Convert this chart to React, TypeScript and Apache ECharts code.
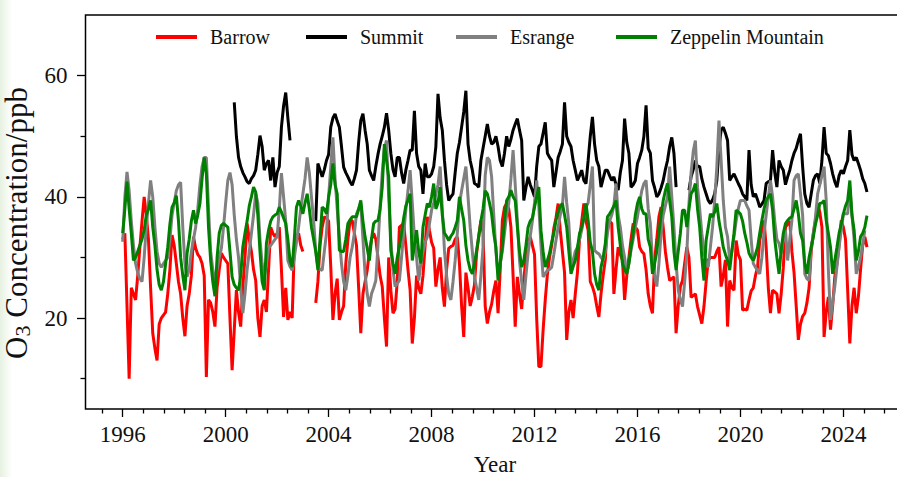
import React, { useEffect, useRef } from 'react';
import * as echarts from 'echarts';

// Monthly mean surface ozone (ppb), January 1996 – December 2024, one row per year.
const START_YEAR = 1996;

const BARROW: (number | null)[] = [
  33, 34, 22, 10, 25, 24, 23, 27, 31.7, 36, 40, 37,
  33, 25, 17.5, 15, 13, 19, 20, 20.5, 21, 24, 28, 33.7,
  32, 29, 26, 24, 20, 17, 22, 24, 27, 33.4, 31.5, 30.5,
  30, 29, 27, 10.3, 23, 22.5, 21, 18.6, 25, 28, 30.7, 30,
  29.5, 29, 20, 11.4, 18, 24.6, 21, 18.6, 25, 30, 35.6, 33,
  31, 28, 26.2, 20, 16.9, 22, 23, 21, 28, 35, 34, 33.4,
  34, 35, 28, 20.2, 25, 19.7, 21, 20, 31.7, 33, 34, 32,
  31, null, null, null, null, null, 22.5, 26, 32, 35, 36.7, 36.5,
  36, 28.4, 19.7, 24, 26.5, 19.7, 21, 22, 29, 33, 36.1, 36.1,
  34, 32, 25, 17.5, 24, 26, 27.9, 31, 33, 34, 33, 30,
  27, 25.2, 20, 15.3, 30, 24.6, 20.8, 21.5, 26, 35, 35.3, 35.6,
  32, 28, 24.6, 15.8, 20, 27, 25, 24, 27, 32, 36.7, 34.5,
  32.5, 31.5, 25.2, 28, 30, 25, 21.9, 28, 31.5, 31.8, 32, 33,
  33.4, 29, 22, 16.9, 27.5, 25, 22, 23.5, 25.5, 30.7, 33.5, 36.1,
  34, 22, 19.1, 21, 22.3, 24.5, 26.2, 20.8, 28, 36.1, 38.3, 38.9,
  38, 35, 27, 18.6, 26.8, 24, 21.5, 26, 30.3, 32, 33.4, 32,
  30.5, 20, 12, 12, 18, 23, 27.2, 30, 32, 34.8, 36.5, 38.9,
  34.5, 31, 27.5, 16.4, 21, 23, 20, 24, 27.5, 33, 36, 38.9,
  36, 34.5, 26, 25.2, 24, 22, 20.2, 24, 27, 29.6, 36.1, 36,
  35.6, 24, 28, 31.7, 30.5, 29.6, 23, 27, 30, 33, 35.6, 35,
  34.5, 31.7, 31, 30.6, 28, 24, 22, 20.8, 29.6, 33, 36.7, 38.3,
  35, 31, 28.4, 26.2, 26.5, 26.8, 17.5, 22, 25.2, 26.2, 29, 31.7,
  30, 23.4, 23.7, 24, 21.9, 20.5, 19.1, 21.9, 26, 29.6, 30, 30,
  30, 31, 31.7, 25.2, 27, 29.6, 18.6, 26.2, 25, 24.6, 32.8, 30.5,
  29.6, 21.3, 21.5, 21.3, 23, 24.5, 25, 27, 28.4, 32.8, 34.5, 36.1,
  31.7, 25, 20.8, 24.6, 24.3, 24, 20.8, 24, 28.4, 35, 35.5, 36,
  31, 27.5, 22, 16.4, 19, 20.3, 20.8, 22.5, 25, 31, 34, 36.1,
  38.9, 37.5, 35, 16.9, 21, 23.5, 18.1, 22, 26.8, 29, 32, 36.1,
  35, 33, 24.6, 15.8, 22, 25, 20.8, 23.5, 28, 32, 33.4, 31.7,
];

const SUMMIT: (number | null)[] = [
  null, null, null, null, null, null, null, null, null, null, null, null,
  null, null, null, null, null, null, null, null, null, null, null, null,
  null, null, null, null, null, null, null, null, null, null, null, null,
  null, null, null, null, null, null, null, null, null, null, null, null,
  null, null, null, null, 55.6, 50, 46.5, 45, 44, 43.3, 42.5, 42.2,
  43, 43.5, 44.4, 47, 50.1, 48.3, 44.4, 45.5, 46, 42.7, 46.5, 41.6,
  44, 45, 51.5, 55, 57.2, 53, 49.3, null, null, null, null, null,
  null, null, null, null, null, null, 36, 45.5, 44.4, 43.3, 44.5, 46,
  47, 51.5, 53, 53.7, 52.5, 51.5, 48.3, 44.9, 44, 43.3, 42.5, 41.9,
  43, 44.4, 49, 52.6, 53.7, 51, 48.7, 44.4, 43.5, 42.7, 45, 47,
  48.7, 50, 51.5, 53.8, 51, 47.2, 44.5, 43.3, 46.5, 46.5, 44, 42.2,
  44.4, 46, 47.7, 47.7, 54.2, 47.2, 45, 44.4, 40.5, 45.5, 43.3, 43.3,
  43.8, 45, 48.3, 57, 53, 51, 46, 42, 39.4, 40, 40.5, 44,
  47.2, 49, 51.5, 54, 57.5, 48.7, 46, 44.4, 42.2, 42, 41.6, 46,
  48, 50, 52, 50, 48.7, 49, 50, 48.3, 46, 45, 47.2, 50,
  48.3, 49.5, 51, 52, 52.9, 51, 49.3, 39.4, 41.5, 43.3, 42, 41.1,
  40, 45, 48.3, 48.7, 50.5, 52.3, 47.2, 46.5, 46, 41.6, 44, 46.5,
  47.5, 48.7, 55.6, 50, 49, 48.3, 46, 44.4, 42.7, 43.5, 44.4, 42.7,
  42.2, 46, 50, 53.2, 48.7, 46, 45, 41.6, 43, 44.4, 44.4, 43.5,
  42.7, 43.3, 42, 41.1, 44, 46, 52.9, 49, 47.2, 41.6, 42, 42.7,
  45.5, 46.5, 47.7, 50, 55.1, 48, 47.2, 42.7, 41.5, 40, 40.5, 41.5,
  42.7, 44.5, 46, 48.3, 49.8, 47.2, 41.6, null, null, null, null, null,
  41.1, 43.3, 44.5, 46, 45, 45, 43, 41.6, 40.5, 39.4, 38.9, 39.5,
  40.5, 42.7, 48, 51, 51.5, 50.5, 49.3, 42.7, 43.3, 43.8, 43, 42.2,
  41.5, 40.5, 40, 39.4, 47.7, 42, 40, 40.5, 39.5, 38.3, 38.8, 39.4,
  42.2, 42.5, 42.7, 47.7, 44, 41.6, 46, 45, 44.4, 42, 43.3, 44.4,
  46, 47.2, 48, 49.3, 50.4, 45, 40.5, 38.9, 38.3, 40.5, 42.7, 43.5,
  43.8, 42.2, 46, 51.5, 47.2, 46.8, 45.5, 43.8, 42.5, 41.6, 43.5, 44.4,
  43.8, 45, 46, 51, 47, 46, 46.5, 45.5, 44.4, 43, 42.2, 40.8,
];

const ESRANGE: (number | null)[] = [
  32.6, 40, 44.1, 41, 36, 32, 29, 27.5, 26.5, 26, 30, 35,
  39, 42.7, 40, 35, 31, 29, 28.4, 29, 29.5, 30, 33, 37,
  39, 41, 42, 42.4, 35, 29, 26.8, 28, 31, 33, 35, 38,
  42, 45, 46.5, 46.5, 38, 31, 28, 26.2, 28, 30, 31.5, 35,
  39, 42.7, 44, 42, 37, 33, 30, 25, 20.8, 24, 28, 31,
  34, 37, 40.6, 39, 33, 29, 26.8, 29, 31.5, 32, 32.5, 33,
  33.4, 38, 43.9, 40, 36, 29.5, 28.5, 27.9, 30, 32.5, 35, 38,
  40.5, 43, 46.5, 44, 40, 36.1, 31, 28.4, 28, 27.9, 31, 34,
  40, 45, 49.8, 43, 38, 33.4, 29, 26, 24.6, 27, 30, 31.7,
  34, 37.2, 38, 38.9, 33, 27.3, 24, 21.9, 24, 25, 26.2, 32,
  38.3, 44, 48, 49.3, 40, 33, 28, 25.2, 25.7, 26.2, 30, 34,
  37.8, 41, 44.4, 39, 33.4, 30, 26.2, 29, 31, 32.5, 33.4, 35.5,
  37.8, 39, 40.5, 42, 45, 38, 31.2, 27, 24, 23, 26, 29.5,
  34, 38.9, 41, 43, 45, 40, 35, 31, 26.8, 25, 23, 27,
  31.7, 43.5, 46.5, 46, 43.3, 37, 31, 27.3, 29, 31, 34, 37,
  39, 43, 47.7, 42, 36, 29.5, 26, 23, 27, 30.7, 33.5, 36,
  39, 42.7, 38.5, 32, 26.8, 27.3, 27.9, 28, 28.4, 30.5, 32.8, 35,
  37, 38.5, 43.3, 39, 35.6, 28.4, 29.5, 31, 31.7, 33, 34.5, 36.5,
  38.3, 39, 42, 45, 31.2, 30.8, 30.6, 30, 29.5, 31, 34, 36,
  37, 38.5, 42.2, 37, 35, 32, 30, 27.3, 29, 31.2, 33, 35,
  36.7, 39, 41, 42.2, 42.7, 38, 35.6, 29.5, 27, 25.2, 29, 34,
  37, 38.5, 40, 45, 40, 35, 29, 24.6, 23, 21.9, 26, 30.6,
  38.9, 44, 47.5, 49.3, 41.6, 38, 34, 31, 29, 28.4, 31.7, 35,
  39.4, 45, 52.6, 46, 39.4, 35, 33.4, 29.5, 31, 33.4, 36, 38,
  39.4, 39.4, 39.4, 38.5, 37.8, 33, 29, 28.4, 27.8, 27.3, 30, 34,
  37, 40, 42.7, 40, 36, 33, 32.3, 30.6, 33, 34.5, 29.5, 33,
  36.1, 42.7, 43.5, 43.8, 40.5, 37, 27.3, 26.5, 26.2, 31.7, 34, 36.7,
  40.5, 42, 43.5, 45, 39.4, 28, 19.7, 22.5, 25.2, 28.5, 31.7, 34.5,
  37.2, 37.2, 37.2, 41.6, 37, 33, 27.3, 28.5, 30, 32, 34.5, null,
];

const ZEPPELIN: (number | null)[] = [
  34, 38, 42.5, 38, 34, 29.5, 30, 31, 32, 33, 34.5, 37,
  38, 39.4, 35, 32, 28, 25.5, 24.6, 26, 29, 31.7, 35.5, 38.3,
  39, 40.2, 36, 30, 27, 24.6, 30.7, 33, 36, 37.8, 35.6, 37,
  38.9, 43, 46.5, 43.8, 35, 29.5, 26, 23.6, 30, 34, 35.3, 35.6,
  35.3, 35, 31, 26.8, 25.5, 25, 24.6, 27, 31.7, 34, 36, 38.5,
  40, 41.6, 40.8, 37, 31, 26, 24.6, 32.3, 34.5, 36, 36.7, 37,
  37.2, 38.3, 37.5, 36.5, 35.6, 33, 29.5, 28.4, 33, 38.3, 39.4, 38.5,
  37.2, 39, 40.5, 38, 35, 33, 31, 27.9, 33, 38.3, 38, 37.2,
  40, 42, 45.5, 42, 40.5, 31.2, 31, 31, 33, 35.6, 36.2, 36.7,
  36.7, 36.7, 38, 39.4, 36, 33.4, 31.5, 29.5, 33, 35.6, 36, 36.1,
  38, 41.6, 48.7, 46, 43.3, 31.2, 29, 27.3, 30, 31.7, 34, 36.5,
  38.5, 39.5, 40.5, 29.5, 32, 34.5, 31, 29, 35, 37, 38.9, 38.3,
  40, 42.2, 38, 39, 41.6, 37, 34, 33.5, 32.8, 33.5, 34, 35,
  36.1, 40, 38, 36.1, 32, 29.5, 28, 27.3, 29, 31.2, 33.5, 36,
  38, 41, 40.5, 39, 37.2, 34, 31.7, 26.2, 29, 31.7, 36.1, 39.4,
  40, 41.1, 40, 39.4, 35, 31, 28.4, 29.5, 32, 35, 36, 36.5,
  38.3, 40, 41.6, 34.5, 31, 28.4, 29.5, 30.7, 32.5, 34, 36.1, 37.5,
  38.5, 38.9, 37, 35, 31, 27.3, 28.5, 29.5, 31.5, 34, 35, 36.5,
  38.9, 36.1, 32.5, 31, 27.3, 25.5, 24.6, 28.4, 30, 32.3, 36.7, 37.2,
  37.8, 38.5, 39.4, 35, 32, 29, 28, 27.3, 29, 31.7, 34, 37,
  38.9, 40, 38, 37.2, 37.2, 33, 31.7, 27.3, 29, 31, 34, 37,
  39.4, 41, 42.2, 39.4, 36.7, 31, 27.9, 31, 34, 37.8, 37.8, 35,
  38, 40.5, 41.1, 42.2, 38, 35, 30, 26.2, 32.8, 35, 37.2, 36.7,
  37.5, 38.9, 36, 34, 31.7, 30.5, 29.5, 27.9, 31, 34, 37.8, 37.5,
  37.2, 36, 34, 32.5, 30.7, 30, 29.5, 30.5, 31.7, 34, 36.1, 38,
  39.4, 40, 40.5, 37.8, 33, 30, 27.3, 31.2, 34, 35.6, 36.1, 36.5,
  36.7, 38, 39.4, 37.2, 34, 32.8, 29, 27.3, 30, 31.7, 33.4, 35.5,
  37, 38.9, 39, 39.4, 36.1, 34, 31.7, 27.3, 29.5, 31.7, 34, 35.5,
  37.2, 38.5, 39.4, 42.7, 37, 34.5, 29.5, 31, 33.4, 34, 35, 36.9,
];

const STATIONS = ['Barrow', 'Summit', 'Esrange', 'Zeppelin Mountain'];
const STATION_VALUES = [BARROW, SUMMIT, ESRANGE, ZEPPELIN];
const STATION_COLORS = ['#ff0000', '#000000', '#808080', '#008000'];

const YEAR_TICKS = [1996, 2000, 2004, 2008, 2012, 2016, 2020, 2024];
const O3_TICKS = [20, 40, 60];
const O3_MINOR_TICKS = [10, 30, 50];

const X_MIN = 1994.554;
const X_MAX = 2026.363;
const Y_MIN = 5;
const Y_MAX = 70;

const FONT = '"Liberation Serif", "Times New Roman", serif';
const INK = '#111111';

// Minor year ticks every 0.8 yr, skipping the labelled ones.
const MINOR_YEAR_TICKS: number[] = [];
for (let k = -1; k <= 37; k++) {
  if (k % 5 !== 0) MINOR_YEAR_TICKS.push(+(1996 + k * 0.8).toFixed(2));
}

const LEGEND_LEFT = [156, 306, 456, 616];

function toPoints(values: (number | null)[]) {
  return values.map((v, i) => [START_YEAR + i / 12, v == null ? '-' : v]);
}

export default function App() {
  const ref = useRef<HTMLDivElement>(null);

  useEffect(() => {
    if (!ref.current) return;
    const chart = echarts.init(ref.current, null, { renderer: 'svg' });

    const tickLine = { color: '#000', width: 1.3 };

    chart.setOption({
      animation: false,
      backgroundColor: '#ffffff',
      grid: {
        left: 85.5,
        top: 15,
        width: 818.7,
        height: 394,
        show: true,
        borderColor: '#000',
        borderWidth: 1.5,
        containLabel: false,
        outerBoundsMode: 'none',
      },
      graphic: [
        {
          type: 'rect',
          z: -10,
          shape: { x: 0, y: 0, width: 12, height: 477 },
          style: {
            fill: new echarts.graphic.LinearGradient(0, 0, 1, 0, [
              { offset: 0, color: '#e6f1e1' },
              { offset: 1, color: '#ffffff' },
            ]),
          },
        },
      ],
      legend: STATIONS.map((name, i) => ({
        data: [{ name, icon: 'rect' }],
        left: LEGEND_LEFT[i],
        top: 27,
        padding: 0,
        itemWidth: 41,
        itemHeight: 4,
        selectedMode: false,
        textStyle: {
          fontFamily: FONT,
          fontSize: 20,
          color: INK,
          padding: [0, 0, 0, 8],
        },
      })),
      xAxis: [
        {
          type: 'value',
          min: X_MIN,
          max: X_MAX,
          position: 'bottom',
          axisLine: { show: false },
          splitLine: { show: false },
          axisTick: { show: true, customValues: YEAR_TICKS, length: 8, lineStyle: tickLine },
          axisLabel: {
            customValues: YEAR_TICKS,
            fontFamily: FONT,
            fontSize: 23,
            color: INK,
            margin: 14,
            formatter: (v: number) => String(Math.round(v)),
          },
          name: 'Year',
          nameLocation: 'middle',
          nameGap: 44,
          nameTextStyle: { fontFamily: FONT, fontSize: 23, color: INK },
        },
        {
          type: 'value',
          min: X_MIN,
          max: X_MAX,
          position: 'bottom',
          axisLine: { show: false },
          splitLine: { show: false },
          axisLabel: { show: false },
          axisTick: { show: true, customValues: MINOR_YEAR_TICKS, length: 4.5, lineStyle: tickLine },
        },
      ],
      yAxis: [
        {
          type: 'value',
          min: Y_MIN,
          max: Y_MAX,
          position: 'left',
          axisLine: { show: false },
          splitLine: { show: false },
          axisTick: { show: true, customValues: O3_TICKS, length: 8.5, lineStyle: tickLine },
          axisLabel: {
            customValues: O3_TICKS,
            fontFamily: FONT,
            fontSize: 23,
            color: INK,
            margin: 18,
          },
          name: '{a|O}{b|3}{a| Concentration/ppb}',
          nameLocation: 'middle',
          nameGap: 33,
          nameTextStyle: {
            padding: [0, 22, 0, 0],
            rich: {
              a: { fontFamily: FONT, fontSize: 31, color: INK, lineHeight: 35 },
              b: { fontFamily: FONT, fontSize: 22, color: INK, lineHeight: 18, verticalAlign: 'bottom' },
            },
          },
        },
        {
          type: 'value',
          min: Y_MIN,
          max: Y_MAX,
          position: 'left',
          axisLine: { show: false },
          splitLine: { show: false },
          axisLabel: { show: false },
          axisTick: { show: true, customValues: O3_MINOR_TICKS, length: 5, lineStyle: tickLine },
        },
      ],
      series: STATIONS.map((name, i) => ({
        name,
        type: 'line',
        xAxisIndex: 0,
        yAxisIndex: 0,
        data: toPoints(STATION_VALUES[i]),
        showSymbol: false,
        symbol: 'none',
        connectNulls: false,
        color: STATION_COLORS[i],
        lineStyle: { color: STATION_COLORS[i], width: 3 },
        emphasis: { disabled: true },
        silent: true,
      })),
    });

    return () => chart.dispose();
  }, []);

  return (
    <div
      ref={ref}
      style={{ position: 'fixed', left: 0, top: 0, width: 897, height: 477, background: '#ffffff' }}
    />
  );
}
